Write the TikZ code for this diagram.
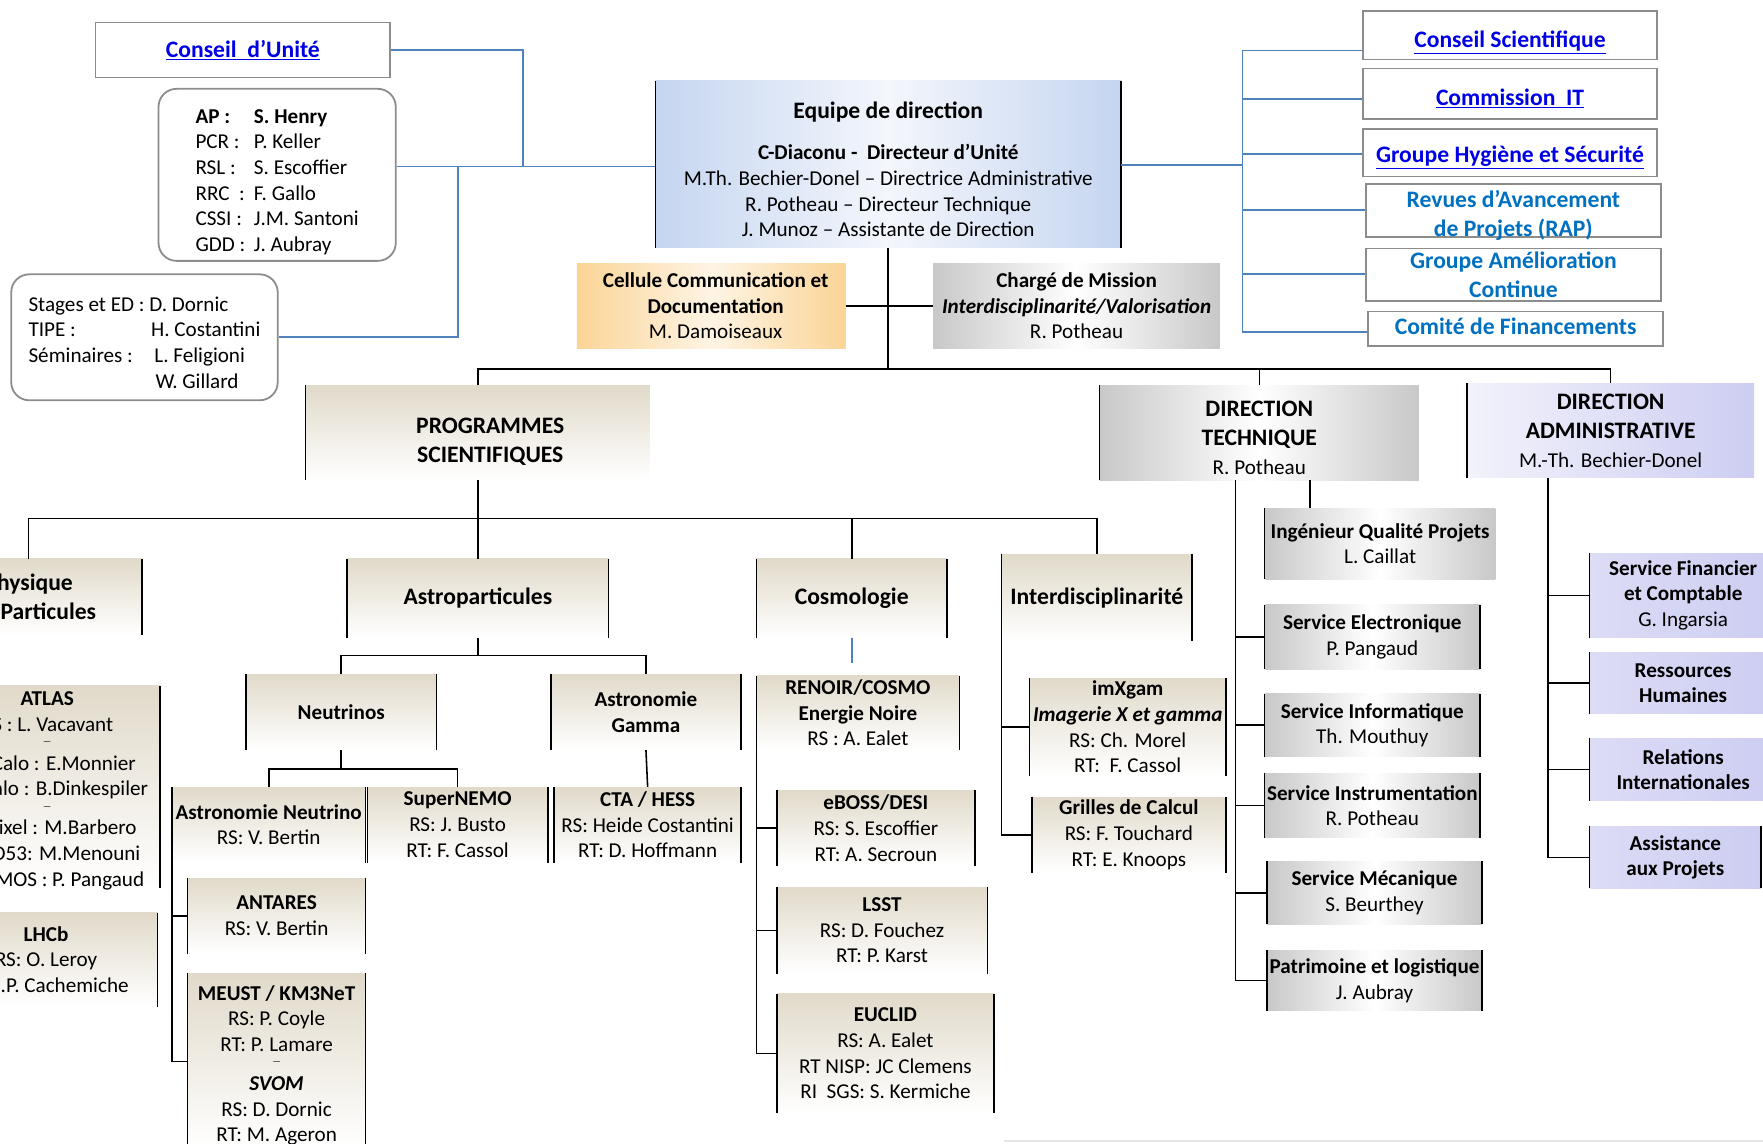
\documentclass[tikz,border=0pt]{standalone}
\usepackage{fontspec}
\setmainfont{Carlito}
\usepackage{tikz}
\definecolor{mblue}{RGB}{79, 129, 189}
\definecolor{lnkblue}{RGB}{0, 0, 230}
\definecolor{mcyan}{RGB}{0, 112, 192}
\definecolor{mlblue}{RGB}{197, 213, 240}
\definecolor{morange}{RGB}{251, 212, 150}
\definecolor{mgray}{RGB}{200, 200, 200}
\definecolor{mtan}{RGB}{225, 218, 202}
\definecolor{mlav}{RGB}{205, 205, 242}
\tikzset{
    box/.style = {inner sep = 0, align = center, font = \fontsize{18.8}{22.8}\selectfont},
    head/.style = {box, font = \fontsize{21}{25.6}\selectfont\bfseries},
    sideline/.style = {draw = black, line width = 1.4},
    lside/.style = {append after command = {(\tikzlastnode.north west) edge [sideline] (\tikzlastnode.south west)}},
    rside/.style = {append after command = {(\tikzlastnode.north east) edge [sideline] (\tikzlastnode.south east)}},
    bside/.style = {lside, rside},
    link/.style = {head, draw = gray!90, line width = 1.6, fill = white},
    rbox/.style = {box, draw = gray!90, line width = 1.6, rounded corners = 16},
    tanbox/.style = {top color = mtan, bottom color = white},
    grybox/.style = {left color = mgray, right color = mgray, middle color = white},
    lavbox/.style = {left color = mlav!70, right color = mlav},
    conn/.style = {draw = black, line width = 1.4},
    bconn/.style = {draw = mblue, line width = 1.6}
}
\newcommand{\lnk}[1]{\textcolor{lnkblue}{\underline{#1}}}
\newcommand{\aprow}[2]{\makebox[52pt][l]{#1}#2}
\newcommand{\pname}[1]{{\fontsize{18.8}{22.8}\selectfont\mdseries #1}}
\newcommand{\tinydash}{{\fontsize{8}{8}\selectfont ---}}
\newcommand{\topgap}[1]{\rule{0pt}{#1pt}}

\begin{document}
\begin{tikzpicture}[x = 1pt, y = -1pt]
    \useasboundingbox (0, 0) rectangle (1568, 1017);
    \clip (0, 0) rectangle (1568, 1017);

    \node [link, minimum width = 262, minimum height = 49] (cu) at (216, 44.5) {\lnk{Conseil\ \ d’Unité}};
    \node [rbox, align = left, minimum width = 211, minimum height = 153] (ap) at (246.5, 155.5) {\topgap{25}\aprow{\textbf{AP :}}{\textbf{S. Henry}}\\ \aprow{PCR :}{P. Keller}\\ \aprow{RSL :}{S. Escoffier}\\ \aprow{RRC\ \ :}{F. Gallo}\\ \aprow{CSSI :}{J.M. Santoni}\\ \aprow{GDD :}{J. Aubray}\hspace*{8pt}};
    \node [rbox, align = left, minimum width = 237, minimum height = 112] (st) at (128.5, 300) {\topgap{22}Stages et ED : D. Dornic\\ \makebox[109pt][l]{TIPE :}H. Costantini\\ \makebox[112pt][l]{Séminaires :}L. Feligioni\\ \hspace*{113pt}W. Gillard};

    \node [box, bside, left color = mlblue, right color = mlblue, middle color = mlblue!20, minimum width = 414, minimum height = 148] (eq) at (790, 146) {\topgap{24}{\fontsize{21}{25.6}\selectfont\bfseries Equipe de direction}\\[14pt] \textbf{C-Diaconu -\ \ Directeur d’Unité}\\ M.Th. Bechier-Donel – Directrice Administrative\\ R. Potheau – Directeur Technique\\ J. Munoz – Assistante de Direction};
    \node [box, left color = morange, right color = morange, middle color = morange!25, minimum width = 239, minimum height = 76] (cel) at (632.5, 272) {\hspace*{8pt}\textbf{Cellule Communication et}\\ \hspace*{8pt}\textbf{Documentation}\\ \hspace*{8pt}M. Damoiseaux};
    \node [box, grybox, minimum width = 255, minimum height = 76] (cdm) at (957.5, 272) {\textbf{Chargé de Mission}\\ \textbf{\textit{Interdisciplinarité/Valorisation}}\\ R. Potheau};

    \node [link, text height = 22, text depth = 0, minimum width = 262, minimum height = 43] (cs) at (1343, 31.5) {\lnk{Conseil Scientifique}};
    \node [link, text height = 20.5, text depth = 0, minimum width = 262, minimum height = 45] (cit) at (1343, 83.5) {\lnk{Commission\ \ IT}};
    \node [link, text height = 17.5, text depth = 0, minimum width = 262, minimum height = 42] (ghs) at (1343, 136) {\lnk{Groupe Hygiène et Sécurité}};
    \node [link, text = mcyan, text height = 46, text depth = 0, minimum width = 262, minimum height = 47] (rap) at (1346, 187.5) {Revues d’Avancement\\ de Projets (RAP)};
    \node [link, text = mcyan, minimum width = 262, minimum height = 47] (gac) at (1346, 244.5) {Groupe Amélioration\\ Continue};
    \node [link, text = mcyan, text height = 10, text depth = 0, minimum width = 262, minimum height = 31] (cf) at (1348, 292.5) {Comité de Financements};

    \node [head, lside, tanbox, minimum width = 306, minimum height = 84] (prog) at (425, 385) {\topgap{29.5}\hspace*{22pt}PROGRAMMES\\ \hspace*{22pt}SCIENTIFIQUES};
    \node [head, lside, grybox, minimum width = 284, minimum height = 84] (dt) at (1120, 385) {\topgap{23}DIRECTION\\ TECHNIQUE\\ \pname{R. Potheau}};
    \node [head, lside, left color = mlav!25, right color = mlav, minimum width = 255, minimum height = 84] (da) at (1432.5, 383) {DIRECTION\\ ADMINISTRATIVE\\ \pname{M.-Th. Bechier-Donel}};

    \node [head, bside, tanbox, minimum width = 201, minimum height = 68] (phys) at (25.5, 531) {Physique\\ des Particules};
    \node [head, bside, tanbox, minimum width = 232, minimum height = 70] (astro) at (425, 532) {Astroparticules};
    \node [head, bside, tanbox, minimum width = 169, minimum height = 70] (cosmo) at (757.5, 532) {Cosmologie};
    \node [head, bside, tanbox, minimum width = 169, minimum height = 77] (inter) at (975.5, 531.5) {Interdisciplinarité};

    \node [box, bside, tanbox, text height = 176.4, text depth = 0, minimum width = 200, minimum height = 180] (atlas) at (42, 700) {\textbf{ATLAS}\\ RS : L. Vacavant\\[-10.8pt] \tinydash\\ LAr Calo : E.Monnier\hspace*{6pt}\\ Tile Calo : B.Dinkespiler\hspace*{6pt}\\[-10.8pt] \tinydash\\ ITk Pixel : M.Barbero\\ \hspace*{24pt}RD53: M.Menouni\\ \hspace*{30pt}CMOS : P. Pangaud};
    \node [box, bside, tanbox, minimum width = 198, minimum height = 83] (lhcb) at (41, 853.5) {\textbf{LHCb}\\ RS: O. Leroy\\ RT: J.P. Cachemiche};

    \node [box, bside, tanbox, minimum width = 169, minimum height = 67] (neu) at (303.5, 633.5) {\textbf{Neutrinos}};
    \node [box, bside, tanbox, minimum width = 169, minimum height = 67] (gam) at (574.5, 633.5) {\textbf{Astronomie}\\ \textbf{Gamma}};
    \node [box, bside, tanbox, minimum width = 172, minimum height = 67] (anu) at (239, 733.5) {\textbf{Astronomie Neutrino}\\ RS: V. Bertin};
    \node [box, bside, tanbox, minimum width = 160, minimum height = 67] (snemo) at (407, 733.5) {\textbf{SuperNEMO}\\ RS: J. Busto\\ RT: F. Cassol};
    \node [box, bside, tanbox, minimum width = 166, minimum height = 67] (cta) at (576, 733.5) {\textbf{CTA / HESS}\\ RS: Heide Costantini\\ RT: D. Hoffmann};
    \node [box, bside, tanbox, minimum width = 158, minimum height = 67] (antares) at (246, 814.5) {\textbf{ANTARES}\\ RS: V. Bertin};
    \node [box, bside, tanbox, minimum width = 158, minimum height = 156] (meust) at (246, 944) {\topgap{20}\textbf{MEUST / KM3NeT}\\ RS: P. Coyle\\ RT: P. Lamare\\[-10.8pt] \tinydash\\ \textbf{\textit{SVOM}}\\ RS: D. Dornic\\ RT: M. Ageron};

    \node [box, bside, tanbox, minimum width = 180, minimum height = 66] (renoir) at (763, 634) {\textbf{RENOIR/COSMO}\\ \textbf{Energie Noire}\\ RS : A. Ealet};
    \node [box, bside, tanbox, minimum width = 176, minimum height = 67] (eboss) at (779, 736.5) {\textbf{eBOSS/DESI}\\ RS: S. Escoffier\\ RT: A. Secroun};
    \node [box, bside, tanbox, minimum width = 187, minimum height = 77] (lsst) at (784.5, 827.5) {\textbf{LSST}\\ RS: D. Fouchez\\ RT: P. Karst};
    \node [box, bside, tanbox, minimum width = 193, minimum height = 106] (euclid) at (787.5, 937) {\textbf{EUCLID}\\ RS: A. Ealet\\ RT NISP: JC Clemens\\ RI\ \ SGS: S. Kermiche};

    \node [box, bside, tanbox, minimum width = 174, minimum height = 87] (imx) at (1003, 646.5) {\textbf{imXgam}\\ \textbf{\textit{Imagerie X et gamma}}\\ RS: Ch. Morel\\ RT:\ \ F. Cassol};
    \node [box, bside, tanbox, minimum width = 172, minimum height = 67] (gri) at (1004, 742.5) {\textbf{Grilles de Calcul}\\ RS: F. Touchard\\ RT: E. Knoops};

    \node [box, lside, grybox, minimum width = 205, minimum height = 63] (iq) at (1227.5, 483.5) {\textbf{Ingénieur Qualité Projets}\\ L. Caillat};
    \node [box, bside, grybox, minimum width = 191, minimum height = 57] (elec) at (1220.5, 566.5) {\textbf{Service Electronique}\\ P. Pangaud};
    \node [box, bside, grybox, minimum width = 191, minimum height = 56] (info) at (1220.5, 645) {\textbf{Service Informatique}\\ Th. Mouthuy};
    \node [box, bside, grybox, minimum width = 191, minimum height = 57] (instr) at (1220.5, 716.5) {\textbf{Service Instrumentation}\\ R. Potheau};
    \node [box, bside, grybox, minimum width = 191, minimum height = 56] (meca) at (1222.5, 794) {\textbf{Service Mécanique}\\ S. Beurthey};
    \node [box, bside, grybox, minimum width = 191, minimum height = 54] (pat) at (1222.5, 872) {\textbf{Patrimoine et logistique}\\ J. Aubray};

    \node [box, lside, lavbox, minimum width = 166, minimum height = 75] (sfc) at (1497, 529.5) {\textbf{Service Financier}\\ \textbf{et Comptable}\\ G. Ingarsia};
    \node [box, lside, lavbox, minimum width = 166, minimum height = 55] (rh) at (1497, 607.5) {\textbf{Ressources}\\ \textbf{Humaines}};
    \node [box, lside, lavbox, minimum width = 166, minimum height = 55] (ri) at (1497, 684.5) {\textbf{Relations}\\ \textbf{Internationales}};
    \node [box, bside, lavbox, minimum width = 152, minimum height = 55] (asp) at (1490, 762.5) {\textbf{Assistance}\\ \textbf{aux Projets}};

    \coordinate (jcu) at (465, 148);
    \coordinate (jst) at (407, 148);
    \draw [bconn] (cu.east) -| (jcu);
    \draw [bconn] (st.east) -| (jst);
    \draw [bconn] (ap.east |- jcu) -- (eq.west |- jcu);
    \coordinate (jr) at (1105, 147);
    \draw [bconn] (eq.east |- jr) -- (jr);
    \foreach \n/\y in {cs/45, cit/88, ghs/137, rap/187, gac/244, cf/295}
        \coordinate (jr\n) at (1105, \y);
    \draw [bconn] (jrcs) -- (jrcf);
    \foreach \n in {cs, cit, ghs, rap, gac, cf}
        \draw [bconn] (jr\n) -- (jr\n -| \n.west);

    \coordinate (bus0) at (790, 328);
    \draw [conn] (eq.south) -- (bus0);
    \draw [conn] (cel.east) -- (cdm.west);
    \draw [conn] (prog.north) |- (bus0) -| (da.north);
    \draw [conn] (dt.north) -- (dt.north |- bus0);

    \coordinate (bus1) at (425, 461);
    \draw [conn] (prog.south) -- (bus1);
    \draw [conn] (phys.north) |- (bus1) -| (inter.north);
    \draw [conn] (astro.north) -- (astro.north |- bus1);
    \draw [conn] (cosmo.north) -- (cosmo.north |- bus1);

    \coordinate (bus2) at (425, 583);
    \draw [conn] (astro.south) -- (bus2);
    \draw [conn] (neu.north) |- (bus2) -| (gam.north);
    \coordinate (bus3) at (303.5, 684);
    \draw [conn] (neu.south) -- (bus3);
    \draw [conn] (anu.north) |- (bus3) -| (snemo.north);
    \draw [conn] (gam.south) -- (cta.north);
    \draw [conn] (anu.south west) |- (meust.west);
    \draw [conn] (anu.south west |- antares.west) -- (antares.west);

    \coordinate (cstub) at (757.5, 590);
    \draw [bconn] (cosmo.south) -- (cstub);
    \draw [conn] (renoir.south west) |- (euclid.west);
    \foreach \n in {eboss, lsst}
        \draw [conn] (renoir.south west |- \n.west) -- (\n.west);

    \draw [conn] (inter.south west) |- (gri.west);
    \draw [conn] (inter.south west |- imx.west) -- (imx.west);

    \coordinate (dtv) at (1099, 427);
    \coordinate (dtq) at (1165, 427);
    \draw [conn] (dtq) -- (dtq |- iq.north);
    \draw [conn] (dtv) |- (pat.west);
    \foreach \n in {elec, info, instr, meca}
        \draw [conn] (dtv |- \n.west) -- (\n.west);

    \coordinate (dav) at (1377, 425);
    \draw [conn] (dav) |- (asp.west);
    \foreach \n in {sfc, rh, ri}
        \draw [conn] (dav |- \n.west) -- (\n.west);

    \draw [gray!20, line width = 2] (893, 1015) -- (1568, 1015);
\end{tikzpicture}
\end{document}
